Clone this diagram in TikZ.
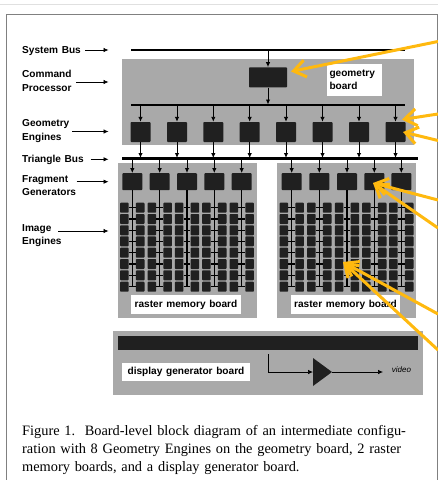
\documentclass[tikz,border=0pt]{standalone}
\usepackage{fontspec}
\setmainfont{Liberation Serif}
\newfontfamily\labelfont[WordSpace=1.3]{Liberation Sans}
\usetikzlibrary{arrows.meta,positioning,calc}
\definecolor{Board}{HTML}{A9A9A9}
\definecolor{Chip}{HTML}{202020}
\definecolor{Marker}{HTML}{FFB90F}
\definecolor{Frame}{HTML}{808080}
\tikzset{
 board/.style={fill=Board,draw=none,inner sep=0pt},
 chip/.style={fill=Chip,draw=none,rounded corners=0.8pt,inner sep=0pt},
 tag/.style={fill=white,draw=none,inner sep=0pt,font=\labelfont\fontsize{10.1}{13.5}\selectfont\bfseries,align=left},
 side/.style={anchor=west,inner sep=0pt,font=\labelfont\fontsize{10.1}{13.5}\selectfont\bfseries,align=left},
 bus/.style={line width=2pt,draw=black},
 arr/.style={-{Latex[length=5pt,width=4.5pt]},line width=0.9pt,draw=black},
 wire/.style={line width=1.1pt,draw=black},
 pointer/.style={-{Straight Barb[length=12pt,width=17pt]},line width=3pt,draw=Marker}
}
\begin{document}
\begin{tikzpicture}[x=1pt,y=-1pt]
\useasboundingbox (0,0) rectangle (438,480);
\draw[black!12,line width=0.8pt] (0,4.5)--(438,4.5);
\draw[Frame,line width=0.9pt] (6.5,480)--(6.5,14.5)--(437.4,14.5)--(437.4,480);
% boards
\node[board,minimum width=292pt,minimum height=86pt] (geo) at (268,102) {};
\node[board,minimum width=139pt,minimum height=155pt] (rasterl) at (187,240.5) {};
\node[board,minimum width=139pt,minimum height=155pt] (rasterr) at (346.5,240.5) {};
\node[board,minimum width=310.5pt,minimum height=64pt] (disp) at (267.75,363) {};
% buses
\coordinate (sysl) at (131,50);
\coordinate (sysr) at (405,50);
\coordinate (sysm) at (268,50);
\coordinate (gbl) at (131,104.5);
\coordinate (gbr) at (405,104.5);
\coordinate (gbm) at (268,104.5);
\coordinate (tril) at (122,158.7);
\coordinate (trir) at (418,158.7);
\draw[bus,line width=2.6pt] (sysl)--(sysr);
\draw[bus] (gbl)--(gbr);
\draw[bus,line width=3pt] (tril)--(trir);
% geometry board
\node[chip,minimum width=38pt,minimum height=20pt] (cp) at (268,77.3) {};
\node[tag,minimum width=55pt,minimum height=32pt,text width=50pt] (geotag) at (354.5,80) {geometry\\board};
\draw[arr] (sysm)--(cp);
\draw[arr] (cp)--(gbm);
\foreach \n/\x in {1/140.5,2/177,3/213.3,4/249.7,5/286,6/322.5,7/359,8/395.5}{
 \node[chip,minimum width=20pt,minimum height=20pt] (ge\n) at (\x,132) {};
 \coordinate (gt\n) at (\x,104.5);
 \coordinate (gb\n) at (\x,158);
 \draw[arr] (gt\n)--(ge\n);
 \draw[arr] (ge\n)--(gb\n);
}
% raster boards
\foreach \s/\x in {a/132.3,b/159.7,c/187,d/214.3,e/241.7,f/291.7,g/319.3,h/347,i/374.3,j/401.3}{
 \coordinate (tb\s) at (\x,158.7);
 \node[chip,minimum width=20pt,minimum height=17pt] (fg\s) at (\x,181.7) {};
 \draw[arr] (tb\s)--(fg\s);
 \coordinate (end\s) at (\x,287);
 \draw[wire] (fg\s)--(end\s);
 \foreach \r/\y in {1/207.7,2/219,3/230.3,4/241.3,5/252.7,6/264,7/275.3,8/286.7}{
  \node[chip,minimum width=8.6pt,minimum height=10pt] (ie\s\r l) at (\x-7.9,\y) {};
  \node[chip,minimum width=8.6pt,minimum height=10pt] (ie\s\r r) at (\x+7.9,\y) {};
  \draw[wire] (ie\s\r l)--(ie\s\r r);
 }
}
\node[tag,minimum width=110pt,minimum height=19pt,align=center] (rasltag) at (186,304.5) {raster memory board};
\node[tag,minimum width=109pt,minimum height=19pt,align=center] (rasrtag) at (345.5,304.5) {raster memory board};
% display generator board
\node[chip,minimum width=300.5pt,minimum height=14.5pt,rounded corners=0pt] (bar) at (267.75,343) {};
\node[tag,minimum width=128pt,minimum height=18pt,align=center] (disptag) at (186,372) {display generator board};
\fill[Chip] (313,358)--(332,372)--(313,386)--cycle;
\coordinate (ampin) at (313,372);
\coordinate (ampout) at (332,372);
\coordinate (sigtop) at (268,354);
\coordinate (sigbend) at (268,372);
\coordinate (vidend) at (383,372);
\draw[arr,line width=0.7pt] (sigtop)--(sigbend)--(ampin);
\draw[arr,line width=0.7pt] (ampout)--(vidend);
\node[inner sep=0pt,font=\labelfont\fontsize{8}{9}\selectfont\itshape] (video) at (401.5,370) {video};
% labels on the left
\node[side] (sysbus) at (22,51) {System Bus};
\node[side] (cmdproc) at (22,81) {Command\\Processor};
\node[side] (geoeng) at (22,131) {Geometry\\Engines};
\node[side] (tribus) at (22,160) {Triangle Bus};
\node[side] (fraggen) at (22,185.5) {Fragment\\Generators};
\node[side] (imgeng) at (22,235.5) {Image\\Engines};
\foreach \b/\sx/\y in {sys/85/50,cmd/76/82,geo/72/131.5,tri/90.5/159.3,frag/76.7/181.7,img/58/231}{
 \coordinate (\b s) at (\sx,\y);
 \coordinate (\b e) at (108.5,\y);
 \draw[arr,line width=0.7pt] (\b s)--(\b e);
}
% caption
\node[anchor=north west,inner sep=0pt,text width=400pt,align=left,font=\fontsize{14.35}{18}\selectfont] (caption) at (22,425) {Figure 1.\ \ Board-level block diagram of an intermediate configu-\\ration with 8 Geometry Engines on the geometry board, 2 raster\\memory boards, and a display generator board.};
% pointers
\coordinate (srca) at (438,41.5);
\coordinate (tipa) at (291,71.5);
\coordinate (srcb) at (438,114);
\coordinate (tipb) at (402,119.5);
\coordinate (srcc) at (438,140.5);
\coordinate (tipc) at (403,132);
\coordinate (srcd) at (438,200);
\coordinate (srce) at (438,228);
\coordinate (tipd) at (373,183);
\coordinate (srcf) at (438,314);
\coordinate (srcg) at (438,350);
\coordinate (tipf) at (343,262);
\draw[pointer] (srca)--(tipa);
\draw[pointer] (srcb)--(tipb);
\draw[pointer] (srcc)--(tipc);
\draw[pointer] (srcd)--(tipd);
\draw[pointer] (srce)--(tipd);
\draw[pointer] (srcf)--(tipf);
\draw[pointer] (srcg)--(tipf);
\end{tikzpicture}
\end{document}
